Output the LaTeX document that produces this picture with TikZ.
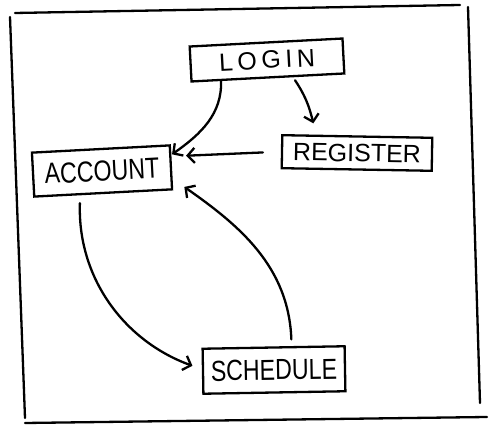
\documentclass[tikz,border=0pt]{standalone}
\usepackage{fontspec}
\setmainfont{Liberation Sans}
\usetikzlibrary{arrows.meta}
\begin{document}
\begin{tikzpicture}[x=1pt,y=1pt,line width=2.3pt,line cap=round,
    box/.style={draw,font=\fontsize{25}{28}\selectfont,inner sep=0pt},
    narrow/.style={font=\fontsize{29}{30}\selectfont\addfontfeature{FakeStretch=0.8}},
    link/.style={-{Straight Barb[length=7pt,width=15pt]}}]
	\useasboundingbox (0,0) rectangle (498,433);
	\draw (15,420) -- (460,428);
	\draw (10,416) -- (25,15);
	\draw (468,426) -- (480,30);
	\draw (25,10) -- (487,16);
	\node[box,minimum width=153pt,minimum height=35pt,rotate=3] (login) at (267,373) {\addfontfeature{LetterSpace=18}LOGIN};
	\node[box,minimum width=150pt,minimum height=33pt,rotate=-1] (register) at (357,280) {REGISTER};
	\node[box,narrow,minimum width=138pt,minimum height=44pt,rotate=3] (account) at (102,262) {ACCOUNT};
	\node[box,narrow,minimum width=142pt,minimum height=45pt,rotate=1] (schedule) at (274,63) {SCHEDULE};
	\draw[link,shorten <=2pt] ([xshift=-47pt]login.south) to[out=-88,in=35] ([yshift=13pt]account.east);
	\draw[link,shorten <=2pt] ([xshift=26pt]login.south) to[bend left=10] ([xshift=-44pt,yshift=12pt]register.north);
	\draw[link,shorten <=18pt,shorten >=14pt] (register.west) -- ([yshift=11pt]account.east);
	\draw[link,shorten <=9pt,shorten >=10pt] ([xshift=-23pt]account.south) to[out=-92,in=160] ([yshift=2pt]schedule.west);
	\draw[link,shorten <=7pt,shorten >=15pt] ([xshift=18pt]schedule.north) to[out=92,in=-35] ([yshift=-11pt]account.east);
\end{tikzpicture}
\end{document}
